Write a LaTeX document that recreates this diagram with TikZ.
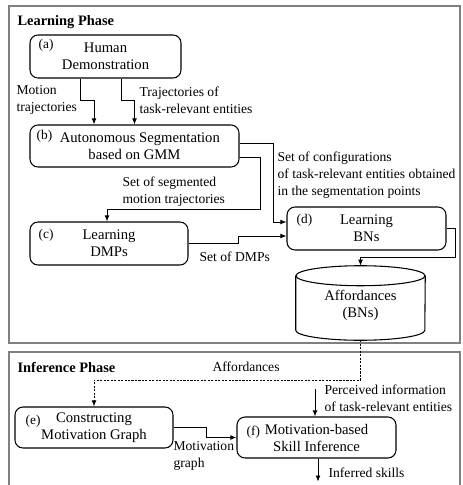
\documentclass[tikz,border=0pt]{standalone}
\usepackage{fontspec}
\setmainfont{Liberation Serif}
\usetikzlibrary{arrows.meta}
\usetikzlibrary{positioning, calc}

\begin{document}
\begin{tikzpicture}[x=0.75pt,y=-0.75pt]
      \tikzset{>={Latex[length=4.5pt,width=3.6pt]}} % small filled heads
      \colorlet{myframe}{black!50}
      \def\px{0.75pt} % one pixel of the sketch

      \tikzset{
        phase/.style={draw=myframe,line width=1.3pt},
        block/.style={draw,line width=0.8pt,rounded corners=6pt,align=center,
          inner sep=2pt,font=\fontsize{11}{12.75}\selectfont},
        tag/.style={anchor=north west,inner sep=0pt,font=\fontsize{10}{11}\selectfont},
        lbl/.style={anchor=west,align=left,inner sep=1pt,font=\fontsize{10.2}{12.75}\selectfont},
        conn/.style={->,line width=0.6pt},
      }

      \useasboundingbox (0,0) rectangle (462,485);

      % PHASES
      \draw[phase] (9,6) rectangle (460,343);
      \draw[phase] (9,352) rectangle (460,495);
      \node[lbl,font=\fontsize{10.8}{12.75}\selectfont\bfseries] (learn) at (16,22) {Learning Phase};
      \node[lbl,font=\fontsize{10.8}{12.75}\selectfont\bfseries] (infer) at (16,367) {Inference Phase};

      % BLOCKS
      \node[block,minimum width=151*\px,minimum height=43*\px] (demo) at (105.5,56.5) {Human\\Demonstration};
      \node[block,minimum width=209*\px,minimum height=42*\px] (seg) at (134.5,146) {\hspace*{8pt}Autonomous Segmentation\\based on GMM};
      \node[block,minimum width=158*\px,minimum height=43*\px] (dmp) at (109,243.5) {Learning\\DMPs};
      \node[block,minimum width=159*\px,minimum height=43*\px] (bn) at (366.5,228.5) {Learning\\BNs};
      \node[block,minimum width=158*\px,minimum height=41*\px] (ctor) at (94,427.5) {Constructing\\Motivation Graph};
      \node[block,minimum width=159*\px,minimum height=41*\px] (inf) at (316.5,437.5) {Motivation-based\\Skill Inference};

      \node[tag] (ta) at ($(demo.north west)+(9,5)$) {(a)};
      \node[tag] (tb) at ($(seg.north west)+(7,6)$) {(b)};
      \node[tag] (tc) at ($(dmp.north west)+(9,8)$) {(c)};
      \node[tag] (td) at ($(bn.north west)+(10,8)$) {(d)};
      \node[tag] (te) at ($(ctor.north west)+(11,9)$) {(e)};
      \node[tag] (tf) at ($(inf.north west)+(10,9)$) {(f)};

      % DATABASE
      \node[minimum width=129*\px,minimum height=74*\px,align=center,inner sep=0pt,
        font=\fontsize{11}{12.75}\selectfont] (aff) at (360.5,303) {\\[-2pt]Affordances\\(BNs)};
      \draw[line width=0.8pt] ($(aff.north)+(0,10)$) ellipse [x radius=48.4pt,y radius=7.5pt];
      \draw[line width=0.8pt] ($(aff.north west)+(0,10)$) -- ($(aff.south west)+(0,-10)$)
        arc[start angle=180,end angle=360,x radius=48.4pt,y radius=7.5pt]
        -- ($(aff.north east)+(0,10)$);

      % CONNECTORS
      \draw[conn] ($(demo.south)+(-25.5,0)$) -- ++(0,22) -| ($(seg.north)+(-40.5,0)$);
      \draw[conn] ($(demo.south)+(15.5,0)$) -- ++(0,22) -| (seg.north);
      \draw[conn] ($(seg.east)+(0,-3)$) -- ++(34,0) |- ($(bn.west)+(0,-6.5)$);
      \draw[conn] ($(seg.east)+(0,11)$) -| ($(dmp.north)+(151,-12)$) -| ($(dmp.north)+(-2,0)$);
      \draw[conn] (dmp.east) -- ++(50,0) |- ($(bn.west)+(0,7.5)$);
      \draw[conn] (bn.east) -- ++(9,0) |- ($(aff.north)+(0,-8)$) -- (aff.north);
      \draw[conn,dash pattern=on 1.6pt off 1pt] (aff.south) -- ++(0,40) -| (ctor.north);
      \draw[conn] (ctor.east) -- ++(33,0) |- (inf.west);
      \coordinate (perc) at ($(inf.north)+(-1.5,-27)$);
      \draw[conn] (perc) -- (perc|-inf.north);
      \coordinate (skills) at ($(inf.south)+(1.5,23)$);
      \draw[conn] (skills|-inf.south) -- (skills);

      % LABELS
      \node[lbl] (l1) at (15,100) {Motion\\trajectories};
      \node[lbl] (l2) at (138,100) {Trajectories of\\task-relevant entities};
      \node[lbl] (l3) at (276,175) {Set of configurations\\of task-relevant entities obtained\\in the segmentation points};
      \node[lbl] (l4) at (121,192) {Set of segmented\\motion trajectories};
      \node[lbl] (l5) at (198,257) {Set of DMPs};
      \node[lbl] (l6) at (211,367) {Affordances};
      \node[lbl] (l7) at (323,398) {Perceived information\\of task-relevant entities};
      \node[lbl] (l8) at (172,456) {Motivation\\graph};
      \node[lbl] (l9) at (327,473) {Inferred skills};

    \end{tikzpicture}
\end{document}
